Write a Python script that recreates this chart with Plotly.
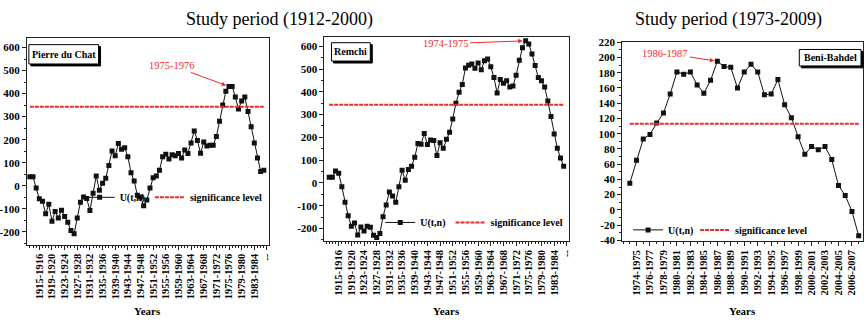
import plotly.graph_objects as go

FONT = "Liberation Serif"
RED = "#ee2b2b"
INK = "#111111"

# ---------------- data ----------------
periods_1912 = [f"{y}-{y + 1}" for y in range(1912, 1987)]   # 75 periods
periods_1973 = [f"{y}-{y + 1}" for y in range(1973, 2008)]   # 35 periods

u_pierre = [39, 39, -10, -57, -67, -122, -81, -154, -112, -140,
            -106, -134, -159, -195, -209, -140, -72, -49, -56, -108,
            -33, 42, -20, 11, 32, 88, 151, 130, 183, 158,
            165, 126, 56, 21, -41, -49, -87, -62, -10, 35,
            42, 67, 126, 137, 116, 134, 130, 140, 120, 155,
            140, 186, 238, 196, 141, 190, 172, 176, 176, 214,
            280, 351, 410, 431, 431, 385, 333, 368, 385, 322,
            256, 186, 120, 62, 67]

u_remchi = [25, 25, 52, 42, -17, -85, -144, -190, -176, -229,
            -193, -211, -190, -195, -230, -239, -222, -148, -97, -40,
            -57, -85, -17, 56, 12, 59, 73,
            113, 173, 170, 217, 169, 189, 186, 120, 176, 152,
            192, 223, 281, 350, 398, 432, 505, 517, 522, 504,
            527, 497, 536, 544, 510, 463, 395, 454, 438, 449,
            421, 425, 473, 539, 594, 624, 610, 566, 515, 463,
            449, 421, 360, 292, 215, 152, 110, 73]

u_beni = [35, 65, 93, 99, 114, 127, 152, 181, 178, 181,
          164, 153, 170, 195, 188, 187, 160, 181, 191, 181,
          151, 152, 171, 138, 121, 96, 73, 83, 79, 83,
          66, 32, 19, -2, -34]

sig_1912 = 343
sig_1973 = 113

xtick_labels_1912 = ["1915-1916", "1919-1920", "1923-1924", "1927-1928", "1931-1932",
                     "1935-1936", "1939-1940", "1943-1944", "1947-1948", "1951-1952",
                     "1955-1956", "1959-1960", "1963-1964", "1967-1968", "1971-1972",
                     "1975-1976", "1979-1980", "1983-1984", "1987-1988"]
xtick_labels_1973 = ["1974-1975", "1976-1977", "1978-1979", "1980-1981", "1982-1983",
                     "1984-1985", "1986-1987", "1988-1989", "1990-1991", "1992-1993",
                     "1994-1995", "1996-1997", "1998-1999", "2000-2001", "2002-2003",
                     "2004-2005", "2006-2007"]
ytick_1912 = [-200, -100, 0, 100, 200, 300, 400, 500, 600]
ytick_1973 = [-40, -20, 0, 20, 40, 60, 80, 100, 120, 140, 160, 180, 200, 220]

stations = ["Pierre du Chat", "Remchi", "Beni-Bahdel"]
titles = ["Study period (1912-2000)", "Study period (1973-2009)"]

W, H = 868, 326


def start_year(label):
    return int(label[:4])


panels = [
    dict(name=stations[0], periods=periods_1912, u=u_pierre, sig=sig_1912,
         xt=xtick_labels_1912, yt=ytick_1912, ymin=50,
         px=(27, 33, 270, 247),
         xr=[1911.06, 1987.57], yr=[-256, 642],
         legend=dict(x=80, y=198, lw=None),
         box=(29, 40, 99, 60),
         arrow=dict(ax=-57, ay=-21)),
    dict(name=stations[1], periods=periods_1912, u=u_remchi, sig=sig_1912,
         xt=xtick_labels_1912, yt=ytick_1912, ymin=50,
         px=(326, 32, 572, 243),
         xr=[1910.52, 1987.8], yr=[-254, 641],
         legend=dict(x=382, y=224, lw=None),
         box=(333, 38, 372, 57),
         arrow=dict(ax=-80, ay=3)),
    dict(name=stations[2], periods=periods_1973, u=u_beni, sig=sig_1973,
         xt=xtick_labels_1973, yt=ytick_1973, ymin=10,
         px=(625, 37, 867, 243),
         xr=[1971.86, 2007.64], yr=[-40.6, 220.6],
         legend=dict(x=631, y=231.7, lw=22),
         box=(803, 45, 865, 62),
         arrow=dict(ax=-52, ay=-8)),
]

fig = go.Figure()
annotations = []
shapes = []
layout_extra = {}

for i, p in enumerate(panels):
    n = "" if i == 0 else str(i + 1)
    xref, yref = "x" + n, "y" + n
    leg = "legend" + n
    xs = [start_year(lbl) for lbl in p["periods"]]
    L, T, R, B = p["px"]

    def dx(v):
        return (v - L) / (R - L)

    def dy(v):
        return (B - v) / (B - T)

    fig.add_trace(go.Scatter(
        x=xs, y=p["u"], mode="lines+markers", name="U(t,n)",
        line=dict(color=INK, width=1),
        marker=dict(symbol="square", size=5, color=INK, line=dict(width=0)),
        xaxis=xref, yaxis=yref, legend=leg, showlegend=True,
        legendwidth=p["legend"]["lw"]))
    fig.add_trace(go.Scatter(
        x=[xs[0], xs[-1]], y=[p["sig"], p["sig"]], mode="lines",
        name="significance level",
        line=dict(color=RED, width=2, dash="4px,1px"),
        xaxis=xref, yaxis=yref, legend=leg, showlegend=True))

    ticktext = list(p["xt"])
    if p["periods"] is periods_1912:
        ticktext[-1] = "--"
    axis_common = dict(showline=True, linecolor="#222", linewidth=1, mirror=True,
                       ticks="outside", tickcolor="#222", showgrid=False, zeroline=False)
    layout_extra["xaxis" + n] = dict(
        domain=[L / W, R / W], range=p["xr"], anchor=yref,
        tickmode="array", tickvals=[start_year(t) for t in p["xt"]], ticktext=ticktext,
        tickangle=-90, ticklen=4,
        tickfont=dict(family=FONT, size=10.5, color="#000", weight="bold"),
        minor=dict(tickmode="linear", tick0=xs[0], dtick=1, ticks="outside",
                   ticklen=2, tickcolor="#222"),
        **axis_common)
    layout_extra["yaxis" + n] = dict(
        domain=[1 - B / H, 1 - T / H], range=p["yr"], anchor=xref,
        tickmode="array", tickvals=p["yt"], ticktext=[str(v) for v in p["yt"]],
        ticklen=4,
        tickfont=dict(family=FONT, size=11, color="#000", weight="bold"),
        minor=dict(tickmode="linear", tick0=0, dtick=p["ymin"], ticks="outside",
                   ticklen=2, tickcolor="#222"),
        **axis_common)
    layout_extra[leg] = dict(
        x=p["legend"]["x"] / W, y=1 - p["legend"]["y"] / H, xanchor="left", yanchor="middle",
        orientation="h", bgcolor="rgba(0,0,0,0)",
        font=dict(family=FONT, size=10, color="#000", weight="bold"),
        itemclick=False, tracegroupgap=0)

    # station label box with drop shadow
    bx0, by0, bx1, by1 = p["box"]
    shapes.append(dict(type="rect", xref=xref + " domain", yref=yref + " domain",
                       x0=dx(bx0 + 2), x1=dx(bx1 + 2), y0=dy(by1 + 2), y1=dy(by0 + 2),
                       fillcolor="#000", line=dict(color="#000", width=1), layer="above"))
    shapes.append(dict(type="rect", xref=xref + " domain", yref=yref + " domain",
                       x0=dx(bx0), x1=dx(bx1), y0=dy(by1), y1=dy(by0),
                       fillcolor="#fff", line=dict(color="#000", width=1), layer="above"))
    annotations.append(dict(
        xref=xref + " domain", yref=yref + " domain",
        x=dx((bx0 + bx1) / 2), y=dy((by0 + by1) / 2),
        xanchor="center", yanchor="middle", showarrow=False,
        text="<b>" + p["name"] + "</b>",
        font=dict(family=FONT, size=10, color="#000")))

    # red annotation at the maximum
    k = max(range(len(p["u"])), key=lambda j: p["u"][j])
    annotations.append(dict(
        xref=xref, yref=yref, x=xs[k], y=p["u"][k], text=p["periods"][k],
        showarrow=True, arrowhead=2, arrowsize=0.9, arrowwidth=1, arrowcolor=RED,
        ax=p["arrow"]["ax"], ay=p["arrow"]["ay"], standoff=3,
        font=dict(family=FONT, size=10.5, color=RED)))

    # axis title
    annotations.append(dict(
        xref=xref + " domain", yref="paper", x=0.5, y=1 - 316 / H,
        xanchor="center", yanchor="middle", showarrow=False, text="<b>Years</b>",
        font=dict(family=FONT, size=11, color="#000")))

annotations.append(dict(xref="paper", yref="paper", x=280.5 / W, y=1 - 13.5 / H,
                        xanchor="center", yanchor="middle", showarrow=False, text=titles[0],
                        font=dict(family=FONT, size=18, color="#000")))
annotations.append(dict(xref="paper", yref="paper", x=731.5 / W, y=1 - 14 / H,
                        xanchor="center", yanchor="middle", showarrow=False, text=titles[1],
                        font=dict(family=FONT, size=18, color="#000")))

fig.update_layout(
    width=W, height=H, margin=dict(l=0, r=0, t=0, b=0),
    paper_bgcolor="#fff", plot_bgcolor="#fff",
    annotations=annotations, shapes=shapes, **layout_extra)

fig.write_html("out.html", config={"displayModeBar": False},
               post_script="document.body.style.margin='0';document.body.style.overflow='hidden';")
